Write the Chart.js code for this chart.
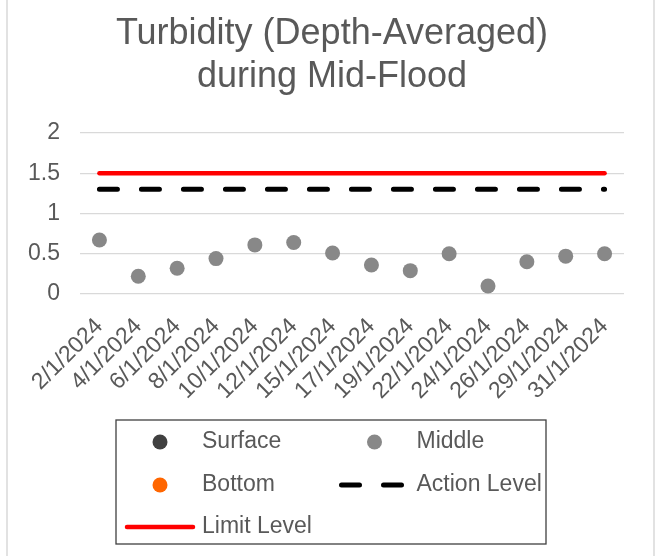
<!DOCTYPE html>
<html>
<head>
<meta charset="utf-8">
<script src="https://cdn.jsdelivr.net/npm/chart.js@4/dist/chart.umd.min.js"></script>
<style>
html,body{margin:0;padding:0;background:#fff;}
#wrap{width:668px;height:556px;position:relative;}
</style>
</head>
<body>
<div id="wrap"><canvas id="c" width="668" height="556"></canvas></div>
<script>
// ---- data ----
const titleLines = ['Turbidity (Depth-Averaged)', 'during Mid-Flood'];
const categories = ['2/1/2024','4/1/2024','6/1/2024','8/1/2024','10/1/2024','12/1/2024','15/1/2024','17/1/2024','19/1/2024','22/1/2024','24/1/2024','26/1/2024','29/1/2024','31/1/2024'];
const seriesNames = ['Surface', 'Middle', 'Bottom', 'Action Level', 'Limit Level'];
const surfaceValues = [];
const middleValues = [0.67, 0.22, 0.32, 0.44, 0.61, 0.64, 0.51, 0.36, 0.29, 0.50, 0.10, 0.40, 0.47, 0.50];
const bottomValues = [];
const actionLevelValues = [1.3, 1.3, 1.3, 1.3, 1.3, 1.3, 1.3, 1.3, 1.3, 1.3, 1.3, 1.3, 1.3, 1.3];
const limitLevelValues = [1.5, 1.5, 1.5, 1.5, 1.5, 1.5, 1.5, 1.5, 1.5, 1.5, 1.5, 1.5, 1.5, 1.5];
const yTickValues = [0, 0.5, 1, 1.5, 2];
const yTickLabels = ['0', '0.5', '1', '1.5', '2'];

// ---- styling ----
const FONT = '"Liberation Sans", Arial, Helvetica, sans-serif';
const TEXT = '#595959';

const framePlugin = {
  id: 'frame',
  beforeDraw(chart) {
    const ctx = chart.ctx;
    ctx.save();
    ctx.fillStyle = '#ffffff';
    ctx.fillRect(0, 0, chart.width, chart.height);
    ctx.strokeStyle = '#d9d9d9';
    ctx.lineWidth = 1.5;
    ctx.strokeRect(7, -10, 647, chart.height + 20);
    ctx.restore();
  }
};

const boxLegendPlugin = {
  id: 'boxLegend',
  afterDraw(chart, args, opts) {
    const ctx = chart.ctx;
    ctx.save();
    const b = opts.box;
    ctx.strokeStyle = opts.borderColor;
    ctx.lineWidth = opts.borderWidth;
    ctx.strokeRect(b.x, b.y, b.w, b.h);
    ctx.font = opts.fontSize + 'px ' + FONT;
    ctx.textBaseline = 'middle';
    ctx.textAlign = 'left';
    chart.data.datasets.forEach((ds, i) => {
      const col = i % 2, row = Math.floor(i / 2);
      const cx = opts.colCenters[col];
      const cy = opts.rowYs[row];
      if (ds.showLine === false) {
        ctx.beginPath();
        ctx.fillStyle = ds.pointBackgroundColor;
        ctx.arc(cx, cy, ds.pointRadius, 0, Math.PI * 2);
        ctx.fill();
      } else {
        ctx.beginPath();
        ctx.strokeStyle = ds.borderColor;
        ctx.lineWidth = ds.borderWidth;
        ctx.lineCap = ds.borderCapStyle || 'butt';
        ctx.setLineDash(ds.borderDash || []);
        ctx.moveTo(cx - opts.lineHalf, cy);
        ctx.lineTo(cx + opts.lineHalf, cy);
        ctx.stroke();
        ctx.setLineDash([]);
      }
      ctx.fillStyle = TEXT;
      ctx.fillText(ds.label, cx + opts.textOffset, cy);
    });
    ctx.restore();
  }
};

const ctx = document.getElementById('c').getContext('2d');
new Chart(ctx, {
  type: 'line',
  data: {
    labels: categories,
    datasets: [
      { label: seriesNames[0], data: surfaceValues, showLine: false, pointRadius: 7.5, pointBorderWidth: 0, pointBackgroundColor: '#404040', borderColor: '#404040' },
      { label: seriesNames[1], data: middleValues, showLine: false, pointRadius: 7.5, pointBorderWidth: 0, pointBackgroundColor: '#888888', borderColor: '#888888' },
      { label: seriesNames[2], data: bottomValues, showLine: false, pointRadius: 7.5, pointBorderWidth: 0, pointBackgroundColor: '#ff6600', borderColor: '#ff6600' },
      { label: seriesNames[3], data: actionLevelValues, borderColor: '#000000', borderWidth: 5, borderDash: [18, 24], borderCapStyle: 'round', pointRadius: 0, fill: false, tension: 0 },
      { label: seriesNames[4], data: limitLevelValues, borderColor: '#ff0000', borderWidth: 4.5, borderCapStyle: 'round', pointRadius: 0, fill: false, tension: 0 }
    ]
  },
  options: {
    responsive: false,
    animation: false,
    devicePixelRatio: 1,
    events: [],
    layout: { padding: { left: 8, right: 12, top: 0, bottom: 152 } },
    plugins: {
      legend: { display: false },
      tooltip: { enabled: false },
      title: {
        display: true,
        text: titleLines,
        color: TEXT,
        font: { family: FONT, size: 36, weight: 'normal', lineHeight: 43 / 36 },
        padding: { top: 13, bottom: 34 }
      },
      boxLegend: {
        box: { x: 116, y: 420, w: 430, h: 124 },
        borderColor: '#404040',
        borderWidth: 1.3,
        fontSize: 23,
        colCenters: [160, 374.5],
        rowYs: [442, 485, 527],
        lineHalf: 33,
        textOffset: 42
      }
    },
    scales: {
      x: {
        type: 'category',
        offset: true,
        grid: { display: false },
        border: { display: false },
        ticks: { color: TEXT, font: { family: FONT, size: 23 }, minRotation: 45, maxRotation: 45, autoSkip: false, padding: 11 },
        afterFit(scale) { scale.height = 110; }
      },
      y: {
        position: 'left',
        min: yTickValues[0],
        max: yTickValues[yTickValues.length - 1],
        grid: { color: '#d9d9d9', lineWidth: 1.3, drawTicks: false },
        border: { display: false },
        ticks: {
          color: TEXT, font: { family: FONT, size: 23 }, padding: 20,
          callback: (v, i) => yTickLabels[i]
        },
        afterBuildTicks(scale) { scale.ticks = yTickValues.map(v => ({ value: v })); },
        afterFit(scale) { scale.width = 72; }
      },
      yRight: {
        position: 'right',
        display: true,
        min: yTickValues[0],
        max: yTickValues[yTickValues.length - 1],
        grid: { display: false },
        border: { display: false },
        ticks: { display: false },
        afterFit(scale) { scale.width = 32; }
      }
    }
  },
  plugins: [framePlugin, boxLegendPlugin]
});
</script>
</body>
</html>
